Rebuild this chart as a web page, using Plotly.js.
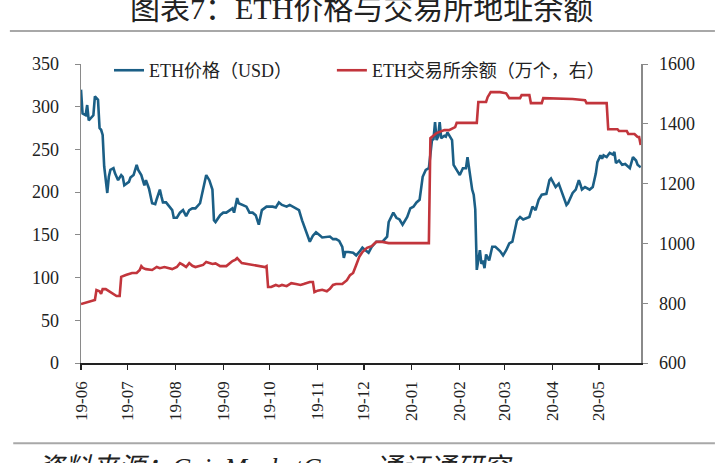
<!DOCTYPE html>
<html>
<head>
<meta charset="utf-8">
<script src="https://cdn.plot.ly/plotly-3.0.1.min.js"></script>
<style>
html,body{margin:0;padding:0;background:#fff;}
#chart{width:724px;height:463px;}
</style>
</head>
<body>
<div id="chart"></div>
<script>
// ETH price (USD), left axis
const priceDates = [
"2019-06-01","2019-06-02","2019-06-04","2019-06-05","2019-06-06","2019-06-09","2019-06-10","2019-06-12","2019-06-13","2019-06-14",
"2019-06-15","2019-06-16","2019-06-18","2019-06-19","2019-06-20","2019-06-22","2019-06-23","2019-06-25","2019-06-27","2019-06-28",
"2019-06-29","2019-07-02","2019-07-03","2019-07-05","2019-07-07","2019-07-08","2019-07-10","2019-07-12","2019-07-13","2019-07-15",
"2019-07-17","2019-07-19","2019-07-20","2019-07-22","2019-07-23","2019-07-24","2019-07-26","2019-07-28","2019-07-30","2019-07-31",
"2019-08-02","2019-08-04","2019-08-06","2019-08-08","2019-08-10","2019-08-12","2019-08-14","2019-08-17","2019-08-19","2019-08-21",
"2019-08-23","2019-08-25","2019-08-26","2019-08-27","2019-08-30","2019-09-01","2019-09-03","2019-09-05","2019-09-07","2019-09-08",
"2019-09-10","2019-09-11","2019-09-14","2019-09-16","2019-09-18","2019-09-20","2019-09-22","2019-09-24","2019-09-26","2019-09-29",
"2019-10-01","2019-10-03","2019-10-05","2019-10-07","2019-10-09","2019-10-12","2019-10-14","2019-10-16","2019-10-18","2019-10-20",
"2019-10-22","2019-10-25","2019-10-27","2019-10-29","2019-10-31","2019-11-02","2019-11-04","2019-11-09","2019-11-11","2019-11-13",
"2019-11-15","2019-11-17","2019-11-18","2019-11-19","2019-11-21","2019-11-24","2019-11-26","2019-11-28","2019-11-30","2019-12-02",
"2019-12-04","2019-12-06","2019-12-09","2019-12-13","2019-12-16","2019-12-17","2019-12-19","2019-12-20","2019-12-22","2019-12-24",
"2019-12-26","2019-12-29","2019-12-31","2020-01-02","2020-01-04","2020-01-06","2020-01-08","2020-01-10","2020-01-12","2020-01-14",
"2020-01-15","2020-01-16","2020-01-17","2020-01-18","2020-01-19","2020-01-20","2020-01-22","2020-01-23","2020-01-24","2020-01-27",
"2020-01-28","2020-01-30","2020-02-01","2020-02-03","2020-02-05","2020-02-06","2020-02-07","2020-02-09","2020-02-10","2020-02-11",
"2020-02-12","2020-02-14","2020-02-15","2020-02-16","2020-02-17","2020-02-18","2020-02-20","2020-02-22","2020-02-24","2020-02-27",
"2020-02-29","2020-03-02","2020-03-04","2020-03-06","2020-03-09","2020-03-11","2020-03-13","2020-03-17","2020-03-19","2020-03-21",
"2020-03-23","2020-03-25","2020-03-28","2020-03-30","2020-03-31","2020-04-01","2020-04-03","2020-04-05","2020-04-07","2020-04-09",
"2020-04-10","2020-04-11","2020-04-14","2020-04-16","2020-04-18","2020-04-19","2020-04-20","2020-04-22","2020-04-25","2020-04-27",
"2020-04-29","2020-04-30","2020-05-02","2020-05-03","2020-05-04","2020-05-06","2020-05-08","2020-05-10","2020-05-11","2020-05-12",
"2020-05-14","2020-05-16","2020-05-18","2020-05-21","2020-05-23","2020-05-25","2020-05-26","2020-05-28"
];
const priceValues = [
320,292,290,302,284,290,312,308,275,273,
267,230,199,218,226,228,222,214,220,218,
208,212,217,220,232,226,220,208,214,204,
187,186,192,203,195,188,188,184,179,170,
170,176,179,172,179,181,181,187,203,220,
214,203,167,165,173,176,176,179,181,176,
193,187,185,183,176,176,173,162,179,183,
183,183,182,188,185,183,185,183,181,179,
167,152,142,149,153,150,147,148,145,145,
143,136,123,130,130,129,126,130,135,132,
129,136,142,142,148,165,173,176,170,168,
162,171,181,183,188,191,218,226,228,261,
262,282,261,265,282,263,266,265,270,261,
232,226,220,228,228,241,228,203,197,180,
109,132,116,120,111,127,120,136,136,131,
126,132,140,142,167,171,168,171,183,179,
191,197,198,214,216,212,206,210,200,192,
185,187,199,203,214,209,203,206,203,206,
222,235,243,239,243,241,246,244,247,234,
237,232,233,228,241,237,232,229
];

// ETH exchange balance (10k ETH), right axis
const balanceDates = [
"2019-06-01","2019-06-05","2019-06-08","2019-06-10","2019-06-11","2019-06-13","2019-06-14","2019-06-15","2019-06-17","2019-06-20",
"2019-06-22","2019-06-24","2019-06-26","2019-06-27","2019-06-30","2019-07-04","2019-07-07","2019-07-09","2019-07-10","2019-07-11",
"2019-07-13","2019-07-17","2019-07-20","2019-07-22","2019-07-25","2019-07-28","2019-07-30","2019-08-02","2019-08-04","2019-08-06",
"2019-08-08","2019-08-10","2019-08-12","2019-08-14","2019-08-17","2019-08-19","2019-08-21","2019-08-23","2019-08-25","2019-08-27",
"2019-08-30","2019-09-03","2019-09-05","2019-09-07","2019-09-09","2019-09-10","2019-09-13","2019-09-16","2019-09-20","2019-09-24",
"2019-09-28","2019-09-29","2019-09-30","2019-10-02","2019-10-05","2019-10-07","2019-10-09","2019-10-12","2019-10-15","2019-10-18",
"2019-10-21","2019-10-23","2019-10-27","2019-10-29","2019-10-30","2019-11-01","2019-11-04","2019-11-07","2019-11-09","2019-11-11",
"2019-11-13","2019-11-17","2019-11-20","2019-11-22","2019-11-24","2019-11-26","2019-11-28","2019-11-30","2019-12-03","2019-12-06",
"2019-12-09","2019-12-13","2019-12-17","2020-01-12","2020-01-13","2020-01-17","2020-01-22","2020-01-25","2020-01-29","2020-01-30",
"2020-02-12","2020-02-13","2020-02-18","2020-02-19","2020-02-21","2020-02-27","2020-03-02","2020-03-04","2020-03-11","2020-03-12",
"2020-03-17","2020-03-18","2020-03-25","2020-03-26","2020-04-14","2020-04-22","2020-04-23","2020-05-06","2020-05-07","2020-05-13",
"2020-05-14","2020-05-19","2020-05-20","2020-05-24","2020-05-26","2020-05-27","2020-05-28"
];
const balanceValues = [
797,803,808,811,844,840,831,847,847,838,
831,824,824,888,894,901,901,911,924,918,
914,911,921,917,921,918,914,921,934,928,
921,934,925,921,925,928,938,935,931,933,
924,924,934,941,946,951,934,931,928,924,
921,924,854,854,861,857,861,857,867,864,
861,864,871,871,837,842,845,840,848,861,
864,864,877,894,901,928,955,971,985,991,
1005,1005,1001,1001,1352,1369,1379,1379,1389,1403,
1403,1473,1473,1489,1506,1506,1502,1486,1486,1496,
1496,1469,1469,1486,1483,1479,1469,1469,1382,1382,
1376,1376,1366,1366,1356,1356,1329
];

const tickDates = ["2019-06-01","2019-07-01","2019-08-01","2019-09-01","2019-10-01","2019-11-01","2019-12-01","2020-01-01","2020-02-01","2020-03-01","2020-04-01","2020-05-01"];
const tickLabels = ["19-06","19-07","19-08","19-09","19-10","19-11","19-12","20-01","20-02","20-03","20-04","20-05"];

const titleText = "图表7：ETH价格与交易所地址余额";
const sourceText = "资料来源：CoinMarketCap，通证通研究";
const priceName = "ETH价格（USD）";
const balanceName = "ETH交易所余额（万个，右）";

const SERIF = "'Liberation Serif', 'Times New Roman', 'Noto Sans CJK SC', serif";
const BLUE = "#1b5f86";
const RED = "#c2353c";

const traces = [
  {x: priceDates, y: priceValues, name: priceName, type: "scatter", mode: "lines",
   line: {color: BLUE, width: 2.6}, yaxis: "y", legend: "legend"},
  {x: balanceDates, y: balanceValues, name: balanceName, type: "scatter", mode: "lines",
   line: {color: RED, width: 2.6}, yaxis: "y2", legend: "legend2"}
];

const legendFont = {family: SERIF, size: 18, color: "#222"};

const layout = {
  width: 724, height: 463,
  margin: {l: 81, r: 83, t: 64, b: 100, pad: 0},
  paper_bgcolor: "#fff", plot_bgcolor: "#fff",
  font: {family: SERIF, size: 17, color: "#222"},
  showlegend: true,
  legend: {orientation: "h", x: 0.05, xanchor: "left", y: 1.04, yanchor: "top",
    font: legendFont, bgcolor: "rgba(0,0,0,0)"},
  legend2: {orientation: "h", x: 0.448, xanchor: "left", y: 1.04, yanchor: "top",
    font: legendFont, bgcolor: "rgba(0,0,0,0)"},
  xaxis: {type: "date", range: ["2019-06-01", "2020-05-28 05:00"],
    tickmode: "array", tickvals: tickDates, ticktext: tickLabels, tickangle: -90,
    showgrid: false, zeroline: false, showline: true, linecolor: "#222", linewidth: 1.5,
    ticks: "outside", ticklen: 5, tickcolor: "#222", tickwidth: 1.2,
    tickfont: {family: SERIF, size: 17, color: "#222"}, ticklabelstandoff: 5},
  yaxis: {range: [0, 350], dtick: 50, tick0: 0, showgrid: false, zeroline: false,
    showline: true, linecolor: "#8a8a8a", linewidth: 1.5, ticks: "outside", ticklen: 5,
    tickcolor: "#8a8a8a", tickfont: {family: SERIF, size: 18, color: "#222"}, ticklabelstandoff: 12},
  yaxis2: {range: [600, 1600], dtick: 200, tick0: 600, overlaying: "y", side: "right",
    showgrid: false, zeroline: false, showline: true, linecolor: "#8a8a8a", linewidth: 1.5,
    ticks: "outside", ticklen: 5, tickcolor: "#8a8a8a",
    tickfont: {family: SERIF, size: 18, color: "#222"}, ticklabelstandoff: 8},
  shapes: [
    {type: "line", xref: "paper", yref: "paper", x0: -0.127, x1: 1.132, y0: 1.110, y1: 1.110,
     line: {color: "#a8a8a8", width: 2}},
    {type: "line", xref: "paper", yref: "paper", x0: -0.121, x1: 1.132, y0: -0.268, y1: -0.268,
     line: {color: "#a8a8a8", width: 2}}
  ],
  annotations: [
    {text: titleText, xref: "paper", yref: "paper", x: 0.5, y: 1.184, xanchor: "center", yanchor: "middle",
     showarrow: false, font: {family: SERIF, size: 30, color: "#222"}},
    {text: "<i>" + sourceText + "</i>", xref: "paper", yref: "paper", x: -0.082, y: -0.294,
     xanchor: "left", yanchor: "top", showarrow: false, font: {family: SERIF, size: 27, color: "#222"}}
  ]
};

Plotly.newPlot("chart", traces, layout, {displayModeBar: false, staticPlot: true});
</script>
</body>
</html>
